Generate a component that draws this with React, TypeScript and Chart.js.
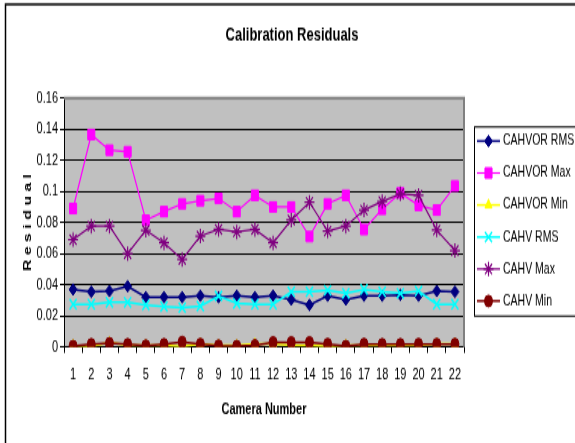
import React, { useEffect, useRef } from 'react';
import { Chart, registerables } from 'chart.js';
import { drawPoint } from 'chart.js/helpers';

Chart.register(...registerables);

const cameras = ['1','2','3','4','5','6','7','8','9','10','11','12','13','14','15','16','17','18','19','20','21','22'];

const cahvorRms = [0.037, 0.0355, 0.036, 0.039, 0.032, 0.032, 0.032, 0.033, 0.032, 0.033, 0.032, 0.033, 0.0305, 0.027, 0.033, 0.0305, 0.033, 0.033, 0.0335, 0.033, 0.036, 0.0355];
const cahvorMax = [0.089, 0.1365, 0.1265, 0.1255, 0.0815, 0.087, 0.092, 0.094, 0.0955, 0.087, 0.0975, 0.09, 0.09, 0.071, 0.092, 0.0975, 0.0755, 0.0885, 0.099, 0.091, 0.088, 0.1035];
const cahvorMin = [0.001, 0.0005, 0.003, 0.001, 0.001, 0.001, 0.0005, 0.002, 0.001, 0.001, 0.002, 0.002, 0.001, 0.001, 0.0005, 0.001, 0.001, 0.001, 0.001, 0.001, 0.002, 0.002];
const cahvRms = [0.0275, 0.0275, 0.0287, 0.0287, 0.027, 0.026, 0.0253, 0.0263, 0.0328, 0.028, 0.0275, 0.0275, 0.0355, 0.0355, 0.0365, 0.0345, 0.037, 0.0355, 0.0345, 0.036, 0.0275, 0.0275];
const cahvMax = [0.069, 0.0777, 0.0777, 0.06, 0.075, 0.067, 0.0563, 0.0713, 0.0756, 0.074, 0.0756, 0.067, 0.0816, 0.093, 0.0745, 0.0777, 0.088, 0.0935, 0.0985, 0.0975, 0.0752, 0.062];
const cahvMin = [0.0006, 0.0017, 0.0024, 0.0017, 0.0009, 0.0017, 0.0032, 0.0019, 0.0009, 0.0006, 0.0011, 0.003, 0.003, 0.003, 0.0019, 0.0006, 0.0019, 0.0017, 0.0017, 0.0019, 0.0019, 0.0019];

const seriesLabels = ['CAHVOR RMS', 'CAHVOR Max', 'CAHVOR Min', 'CAHV RMS', 'CAHV Max', 'CAHV Min'];

const TITLE = 'Calibration Residuals';
const Y_TITLE = 'R e s i d u a l';
const X_TITLE = 'Camera Number';
const Y_MIN = 0;
const Y_MAX = 0.16;
const Y_STEP = 0.02;

const FONT = "'Liberation Sans', Arial, sans-serif";

// The picture is drawn on a shorter canvas and stretched vertically (like the reference).
const W = 575;
const H_OUT = 443;
const H_IN = 306;
const K = H_OUT / H_IN;
const vy = (y: number) => y / K;

const decorPlugin = {
  id: 'decor',
  beforeDraw(chart: any) {
    const { ctx, chartArea: a } = chart;
    ctx.save();
    ctx.fillStyle = '#ffffff';
    ctx.fillRect(0, 0, chart.width, chart.height);
    ctx.fillStyle = '#C0C0C0';
    ctx.fillRect(a.left, a.top, a.right - a.left, a.bottom - a.top);
    ctx.strokeStyle = '#000000';
    ctx.lineWidth = 1.5;
    ctx.beginPath();
    ctx.moveTo(5.5, chart.height + 2);
    ctx.lineTo(5.5, vy(4.5));
    ctx.lineTo(chart.width + 2, vy(4.5));
    ctx.stroke();
    ctx.restore();
  },
  afterDraw(chart: any) {
    const { ctx, chartArea: a } = chart;
    ctx.save();
    ctx.strokeStyle = '#808080';
    ctx.lineWidth = 2;
    ctx.beginPath();
    ctx.moveTo(a.left, a.top);
    ctx.lineTo(a.right, a.top);
    ctx.lineTo(a.right, a.bottom);
    ctx.stroke();
    ctx.fillStyle = '#000000';
    ctx.font = `bold 13px ${FONT}`;
    ctx.textAlign = 'center';
    ctx.textBaseline = 'middle';
    ctx.fillText(TITLE, 292, vy(36));
    const lx = 474.5, ly = vy(127), lh = vy(316) - vy(127);
    ctx.strokeStyle = '#000000';
    ctx.lineWidth = 1;
    ctx.strokeRect(lx, ly, 130, lh);
    ctx.font = `10.5px ${FONT}`;
    ctx.textAlign = 'left';
    chart.data.datasets.forEach((ds: any, i: number) => {
      const y = vy(141 + i * 32);
      ctx.strokeStyle = ds.borderColor;
      ctx.lineWidth = ds.borderWidth;
      ctx.beginPath();
      ctx.moveTo(477, y);
      ctx.lineTo(500, y);
      ctx.stroke();
      ctx.fillStyle = ds.backgroundColor;
      ctx.strokeStyle = ds.borderColor;
      ctx.lineWidth = ds.pointBorderWidth;
      drawPoint(ctx, { pointStyle: ds.pointStyle, radius: ds.pointRadius, rotation: 0, borderWidth: ds.pointBorderWidth }, 488.5, y);
      ctx.fillStyle = '#000000';
      ctx.fillText(ds.label, 503, y);
    });
    ctx.restore();
  },
};

export default function App() {
  const ref = useRef<HTMLCanvasElement>(null);
  useEffect(() => {
    document.body.style.margin = '0';
    const mk = (i: number, data: number[], color: string, style: string, radius: number, bw: number, pbw: number) => ({
      label: seriesLabels[i],
      data,
      borderColor: color,
      backgroundColor: color,
      pointStyle: style,
      pointRadius: radius,
      pointHoverRadius: radius,
      borderWidth: bw,
      pointBorderWidth: pbw,
      tension: 0,
      order: 6 - i,
    });
    const chart = new Chart(ref.current!, {
      type: 'line',
      data: {
        labels: cameras,
        datasets: [
          mk(0, cahvorRms, '#000080', 'rectRot', 4, 1.5, 1),
          mk(1, cahvorMax, '#FF00FF', 'rect', 5, 1.2, 1),
          mk(2, cahvorMin, '#FFFF00', 'triangle', 4, 1.5, 1),
          mk(3, cahvRms, '#00FFFF', 'crossRot', 5, 1.5, 1.5),
          mk(4, cahvMax, '#800080', 'star', 5, 1.2, 1.2),
          mk(5, cahvMin, '#800000', 'circle', 4, 1.5, 1),
        ] as any,
      },
      plugins: [decorPlugin],
      options: {
        responsive: false,
        animation: false,
        events: [],
        layout: { padding: { left: 9, top: vy(98), right: 0, bottom: 0 } },
        plugins: {
          legend: { display: false },
          title: { display: false },
          tooltip: { enabled: false },
        },
        scales: {
          x: {
            type: 'category',
            offset: true,
            afterFit: (s: any) => { s.height = H_IN - vy(347); },
            grid: { display: true, drawOnChartArea: false, drawTicks: true, tickLength: 4, color: '#000000', offset: true },
            border: { display: true, color: '#000000', width: 1 },
            ticks: { color: '#000000', font: { family: FONT, size: 11 }, padding: 9, maxRotation: 0, autoSkip: false },
            title: { display: true, text: X_TITLE, color: '#000000', font: { family: FONT, size: 11, weight: 'bold' }, padding: { top: 0, bottom: 16 } },
          },
          y: {
            type: 'linear',
            min: Y_MIN,
            max: Y_MAX,
            afterFit: (s: any) => { s.width = 55; },
            grid: { color: '#000000', lineWidth: 1, drawTicks: true, tickLength: 4, tickColor: '#000000' },
            border: { display: true, color: '#000000', width: 1 },
            ticks: {
              stepSize: Y_STEP,
              color: '#000000',
              padding: 2,
              font: { family: FONT, size: 11 },
              callback: (v: any) => String(Number(Number(v).toFixed(2))),
            },
            title: { display: true, text: Y_TITLE, color: '#000000', font: { family: FONT, size: 11, weight: 'bold' }, padding: { top: 12, bottom: 0 } },
          },
          yR: {
            type: 'linear',
            position: 'right',
            display: true,
            afterFit: (s: any) => { s.width = 111; },
            grid: { display: false },
            border: { display: false },
            ticks: { display: false },
          },
        },
      } as any,
    });
    return () => chart.destroy();
  }, []);
  return (
    <div style={{ position: 'absolute', left: 0, top: 0, width: W, height: H_OUT }}>
      <canvas ref={ref} width={W} height={H_IN} style={{ display: 'block', width: W, height: H_OUT }} />
    </div>
  );
}
